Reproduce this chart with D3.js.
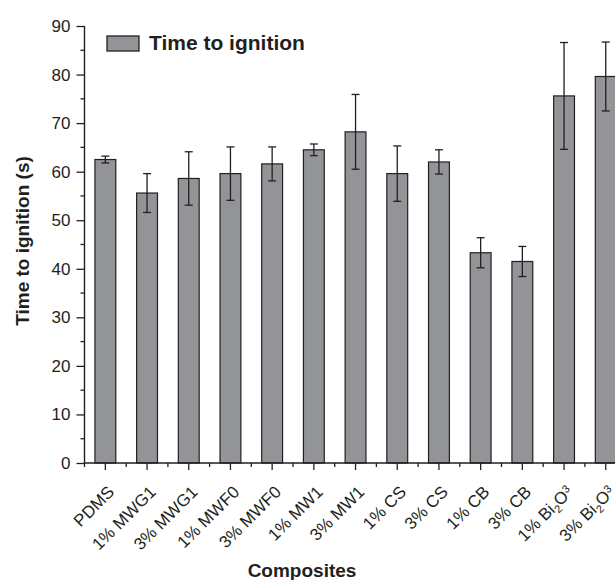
<!DOCTYPE html>
<html><head><meta charset="utf-8">
<script src="https://cdn.jsdelivr.net/npm/d3@7"></script>
<style>body{margin:0;background:#fff}text{font-family:"Liberation Sans",Arial,sans-serif;fill:#231f20}</style>
</head><body>
<svg id="c" width="615" height="580"></svg>
<script>
const categories = ["PDMS","1% MWG1","3% MWG1","1% MWF0","3% MWF0","1% MW1","3% MW1","1% CS","3% CS","1% CB","3% CB","1% Bi2O3","3% Bi2O3"];
const values = [62.5,55.6,58.6,59.6,61.6,64.5,68.2,59.6,62.0,43.3,41.5,75.6,79.6];
const errors = [0.7,4.0,5.5,5.5,3.5,1.2,7.7,5.7,2.5,3.1,3.1,11.0,7.1];
const yTicks = [0,10,20,30,40,50,60,70,80,90];
const seriesName = "Time to ignition";

const svg = d3.select("#c");
const x0 = 84.5, yBase = 463, yTop = 26;
const step = 41.7;
const x = d3.scaleBand().domain(categories).range([x0, x0 + step*categories.length]).paddingInner(0.5).paddingOuter(0.25);
const y = d3.scaleLinear().domain([0,90]).range([yBase, yTop]);
const ink = "#231f20";

// bars
svg.append("g").selectAll("rect").data(categories).join("rect")
  .attr("x", d => x(d)).attr("width", x.bandwidth())
  .attr("y", (d,i) => y(values[i])).attr("height", (d,i) => y(0) - y(values[i]))
  .attr("fill", "#939498").attr("stroke", ink).attr("stroke-width", 1.2);

// error bars
const eg = svg.append("g").attr("stroke", ink).attr("stroke-width", 1.3);
categories.forEach((c,i) => {
  const cx = x(c) + x.bandwidth()/2;
  const t = y(values[i]+errors[i]), b = y(values[i]-errors[i]);
  eg.append("line").attr("x1",cx).attr("x2",cx).attr("y1",t).attr("y2",b);
  eg.append("line").attr("x1",cx-4).attr("x2",cx+4).attr("y1",t).attr("y2",t);
  eg.append("line").attr("x1",cx-4).attr("x2",cx+4).attr("y1",b).attr("y2",b);
});

// y axis
const yAxis = d3.axisLeft(y).tickValues(yTicks).tickSize(8).tickPadding(6);
const gy = svg.append("g").attr("transform", `translate(${x0},0)`).call(yAxis);
gy.select(".domain").attr("stroke", ink).attr("stroke-width",1.4).attr("d", `M0,${yBase}V${yTop}`);
gy.selectAll(".tick line").attr("stroke", ink).attr("stroke-width",1.3);
gy.selectAll(".tick text").attr("font-size", 17).attr("fill", ink).style("font-family","Liberation Sans, Arial");
// minor y ticks
svg.append("g").selectAll("line").data(d3.range(5,90,10)).join("line")
  .attr("x1", x0-4).attr("x2", x0).attr("y1", d=>y(d)).attr("y2", d=>y(d))
  .attr("stroke", ink).attr("stroke-width",1.3);

// x axis
svg.append("line").attr("x1", x0).attr("x2", 615).attr("y1", yBase).attr("y2", yBase).attr("stroke", ink).attr("stroke-width",1.4);
const gx = svg.append("g");
categories.forEach((c,i) => {
  const cx = x(c) + x.bandwidth()/2;
  gx.append("line").attr("x1",cx).attr("x2",cx).attr("y1",yBase).attr("y2",yBase+7).attr("stroke",ink).attr("stroke-width",1.3);
  const bx = x0 + i*step;
  gx.append("line").attr("x1",bx).attr("x2",bx).attr("y1",yBase).attr("y2",yBase+4).attr("stroke",ink).attr("stroke-width",1.3);
  const t = gx.append("text").attr("text-anchor","end").attr("font-size",17)
    .attr("transform", `translate(${cx+10},${yBase+30}) rotate(-45)`);
  const m = c.match(/^(.*)Bi2O3$/);
  if (m) {
    t.append("tspan").text(m[1] + "Bi");
    t.append("tspan").text("2").attr("font-size",11).attr("dy",4);
    t.append("tspan").text("O").attr("dy",-4);
    t.append("tspan").text("3").attr("font-size",11).attr("dy",-5);
  } else t.text(c);
});

// axis titles
svg.append("text").attr("x", 302).attr("y", 577).attr("text-anchor","middle").attr("font-size",19).attr("font-weight","bold").text("Composites");
svg.append("text").attr("transform", `translate(29,241) rotate(-90)`).attr("text-anchor","middle").attr("font-size",19).attr("font-weight","bold").text("Time to ignition (s)");

// legend
svg.append("rect").attr("x",107).attr("y",36).attr("width",32).attr("height",15).attr("fill","#939498").attr("stroke",ink).attr("stroke-width",1.3);
svg.append("text").attr("x",149).attr("y",50).attr("font-size",21).attr("font-weight","bold").text(seriesName);
</script>
</body></html>
